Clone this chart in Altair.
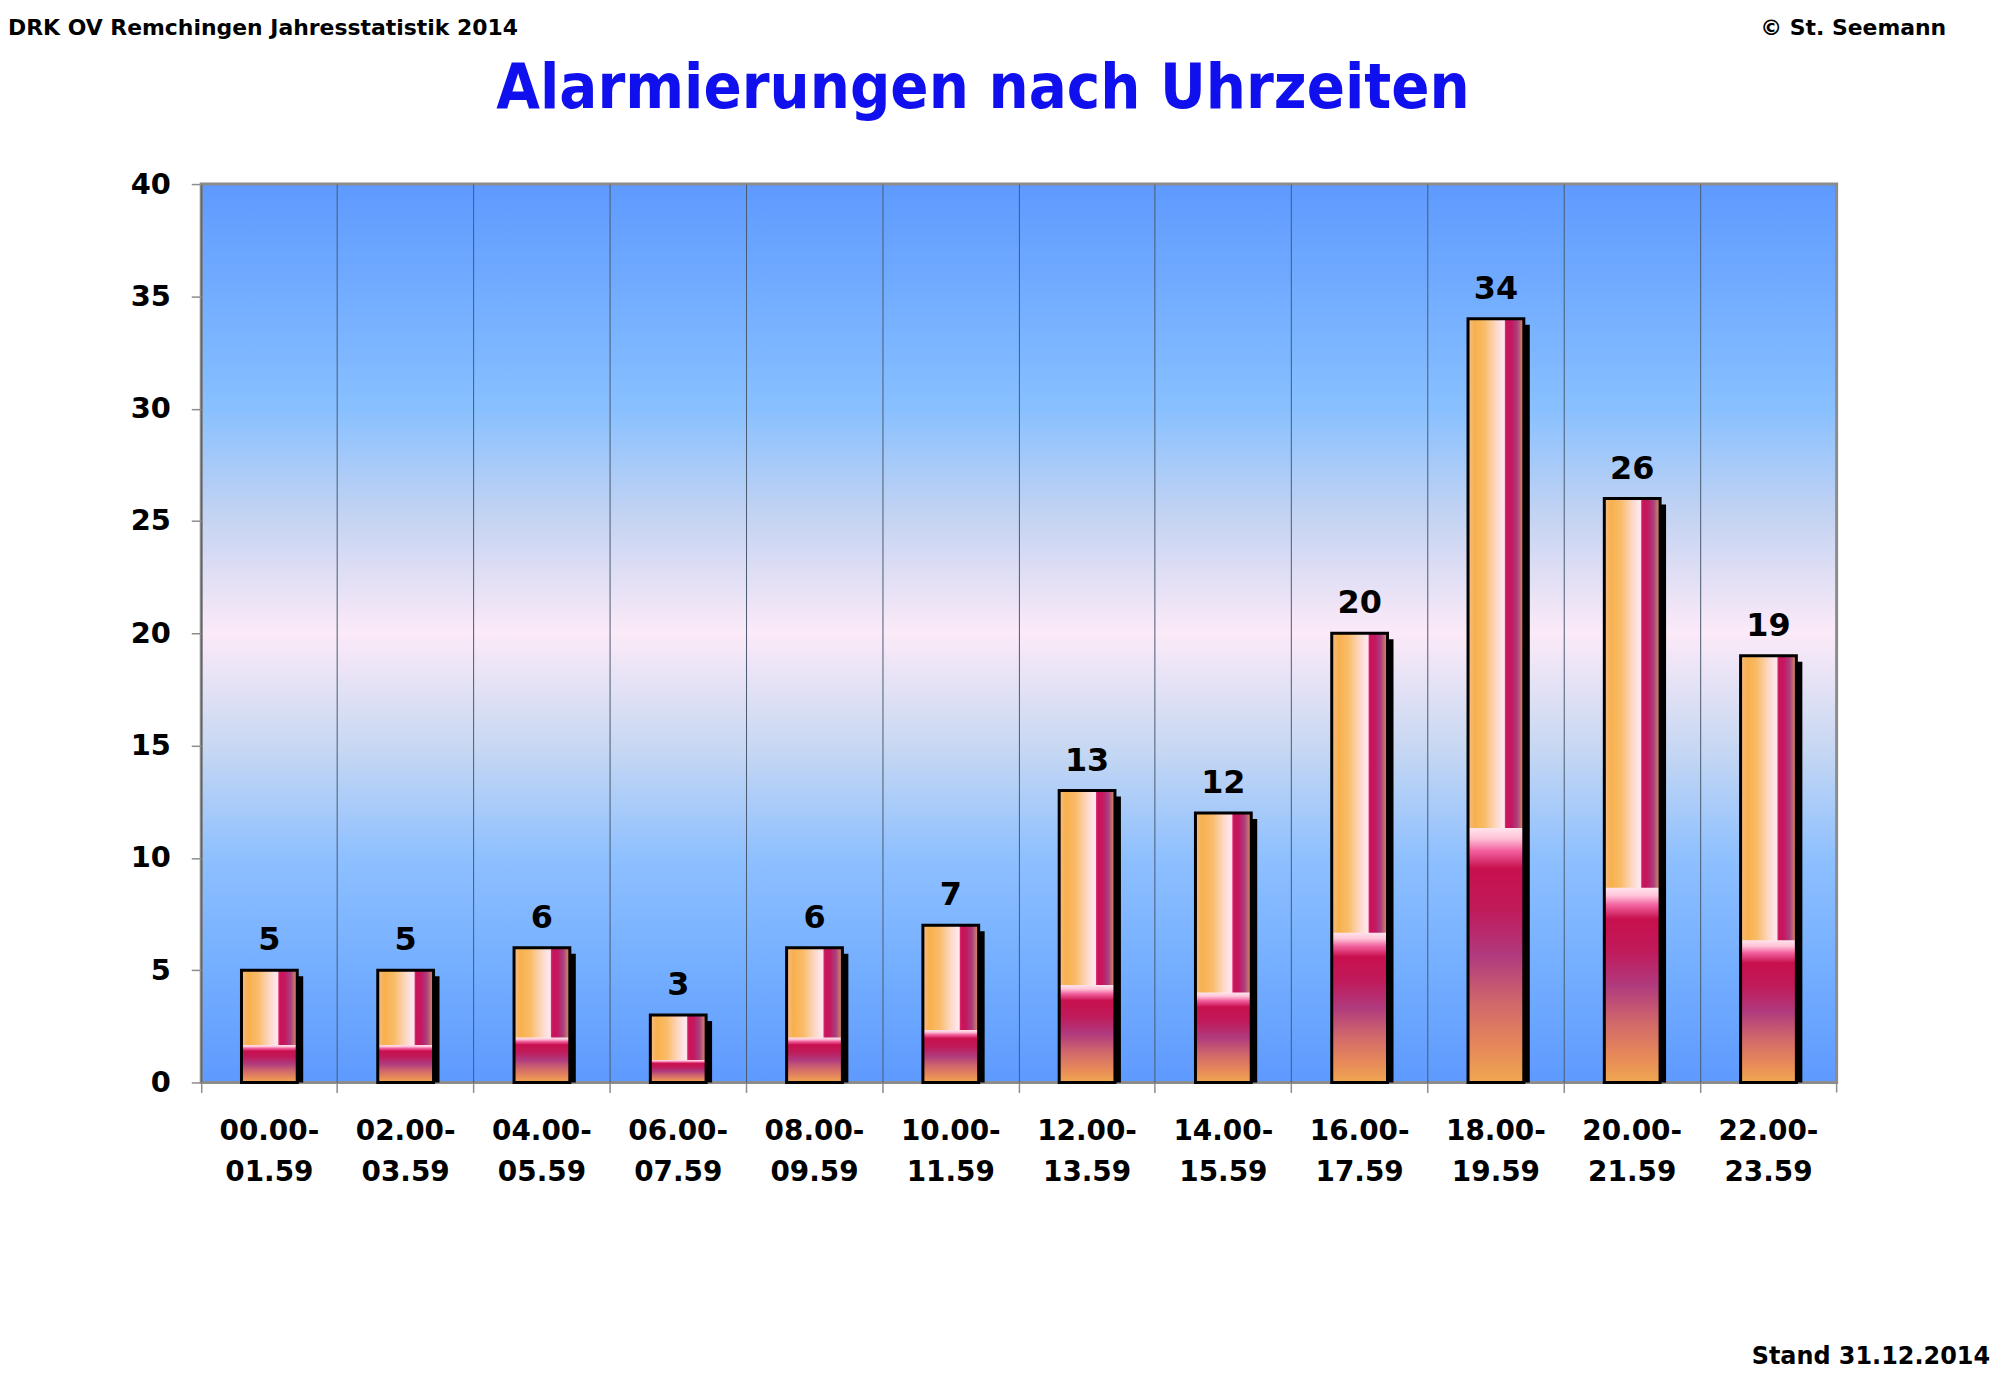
import altair as alt
import pandas as pd

von = ["00.00", "02.00", "04.00", "06.00", "08.00", "10.00",
       "12.00", "14.00", "16.00", "18.00", "20.00", "22.00"]
bis = ["01.59", "03.59", "05.59", "07.59", "09.59", "11.59",
       "13.59", "15.59", "17.59", "19.59", "21.59", "23.59"]
alarmierungen = [5, 5, 6, 3, 6, 7, 13, 12, 20, 34, 26, 19]
y_ticks = [0, 5, 10, 15, 20, 25, 30, 35, 40]

zeitraum = [f"{a}-{b}" for a, b in zip(von, bis)]
df = pd.DataFrame({"zeitraum": zeitraum, "anzahl": alarmierungen})

W, H = 1642, 902
BAR = 56
FONT = "DejaVu Sans"
GRAU = "#8C8C8C"


def verlauf(stops, x2=0, y2=0):
    return alt.LinearGradient(
        gradient="linear",
        stops=[alt.GradientStop(offset=o, color=c) for o, c in stops],
        x1=0, y1=0, x2=x2, y2=y2,
    )


hintergrund = verlauf([
    (0.0, "#5E9AFF"), (0.25, "#88C0FF"), (0.375, "#C6D4F2"),
    (0.5, "#FCEAF8"), (0.625, "#C8D8F2"), (0.75, "#8EC0FF"),
    (0.875, "#74AEFF"), (1.0, "#5E9AFF"),
], y2=1)

links = verlauf([
    (0.0, "#F4BC8C"), (0.12, "#F8B04C"), (0.3, "#F9BC6A"),
    (0.5, "#FCD8C4"), (0.62, "#FFE6EC"), (1.0, "#FFE6EC"),
], x2=1)

streifen = verlauf([
    (0.0, "#E0306E"), (0.1, "#C8145A"), (0.35, "#C41860"),
    (0.65, "#A84080"), (0.85, "#C8706A"), (1.0, "#E09060"),
], x2=1)

unten = verlauf([
    (0.0, "#FFE4EC"), (0.04, "#FFC4D8"), (0.09, "#F2609E"),
    (0.16, "#C8104E"), (0.32, "#C01A5A"), (0.5, "#B03A7E"),
    (0.7, "#D26A6A"), (0.88, "#E88C58"), (1.0, "#F0A850"),
], y2=1)

x_axis = alt.Axis(
    bandPosition=0, grid=True, gridColor="#4A5A70", gridWidth=1,
    domain=False, tickSize=10, tickColor=GRAU, tickWidth=1.5,
    labelAngle=0, labelOverlap=False,
    labelExpr="[split(datum.label, '-')[0] + '-', split(datum.label, '-')[1]]",
    labelFont=FONT, labelFontSize=28, labelFontWeight="bold",
    labelColor="black", labelPadding=25, labelLineHeight=41,
    labelBaseline="top", zindex=1,
)
y_axis = alt.Axis(
    values=y_ticks, grid=False, domain=False, tickSize=10,
    tickColor=GRAU, tickWidth=1.5, labelFont=FONT, labelFontSize=29,
    labelFontWeight="bold", labelColor="black", labelPadding=21,
    zindex=1,
)
x_enc = alt.X("zeitraum:N", sort=zeitraum, title=None,
              scale=alt.Scale(paddingInner=0, paddingOuter=0), axis=x_axis)
y_scale = alt.Scale(domain=[0, 40], nice=False)
y_enc = alt.Y("anzahl:Q", title=None, scale=y_scale, axis=y_axis)

eins = pd.DataFrame({"n": [0]})

flaeche = alt.Chart(eins).mark_rect(
    fill=hintergrund, stroke=GRAU, strokeWidth=3
).encode(x=alt.value(0), x2=alt.value(W), y=alt.value(0), y2=alt.value(H))

base = alt.Chart(df).encode(x=x_enc)

schatten = base.mark_bar(
    color="black", width=BAR, xOffset=6, yOffset=6, clip=True
).encode(y=y_enc)

balken = base.mark_bar(width=BAR, fill=links, strokeWidth=0).encode(y=y_enc)

rechts = base.mark_bar(
    width=19, xOffset=18.5, fill=streifen, strokeWidth=0
).encode(y=y_enc)

sockel = base.transform_calculate(
    drittel="datum.anzahl / 3"
).mark_bar(width=BAR, fill=unten, strokeWidth=0).encode(
    y=alt.Y("drittel:Q", title=None, scale=y_scale, axis=y_axis)
)

rahmen = base.mark_bar(
    width=BAR, fillOpacity=0, stroke="black", strokeWidth=3
).encode(y=y_enc)

werte = base.mark_text(
    dy=-20, baseline="alphabetic", font=FONT, fontSize=32,
    fontWeight="bold", color="black"
).encode(y=y_enc, text="anzahl:Q")

letzter_tick = alt.Chart(eins).mark_rule(color=GRAU, strokeWidth=1.5).encode(
    x=alt.value(W), y=alt.value(H), y2=alt.value(H + 10)
)

titel = alt.Chart(eins).mark_text(
    font="DejaVu Sans Condensed", fontSize=63, fontWeight="bold",
    color="#1010EE", align="center", baseline="alphabetic"
).encode(x=alt.value(785), y=alt.value(-76), text=alt.value("Alarmierungen nach Uhrzeiten"))

kopf_links = alt.Chart(eins).mark_text(
    font=FONT, fontSize=22, fontWeight="bold", color="black",
    align="left", baseline="middle"
).encode(x=alt.value(-194), y=alt.value(-157),
         text=alt.value("DRK OV Remchingen Jahresstatistik 2014"))

kopf_rechts = alt.Chart(eins).mark_text(
    font=FONT, fontSize=22, fontWeight="bold", color="black",
    align="right", baseline="middle"
).encode(x=alt.value(1752), y=alt.value(-157), text=alt.value("© St. Seemann"))

stand = alt.Chart(eins).mark_text(
    font=FONT, fontSize=24, fontWeight="bold", color="black",
    align="right", baseline="alphabetic"
).encode(x=alt.value(1796), y=alt.value(1185), text=alt.value("Stand 31.12.2014"))

chart = alt.layer(
    flaeche, schatten, balken, rechts, sockel, rahmen, werte,
    letzter_tick, titel, kopf_links, kopf_rechts, stand,
).properties(
    width=W,
    height=H,
    autosize=alt.AutoSizeParams(type="none"),
    padding={"left": 194, "top": 174, "right": 156, "bottom": 303},
    background="white",
).configure_view(
    strokeWidth=0
)

chart.save("out.html", embed_options={"renderer": "svg", "actions": False})
